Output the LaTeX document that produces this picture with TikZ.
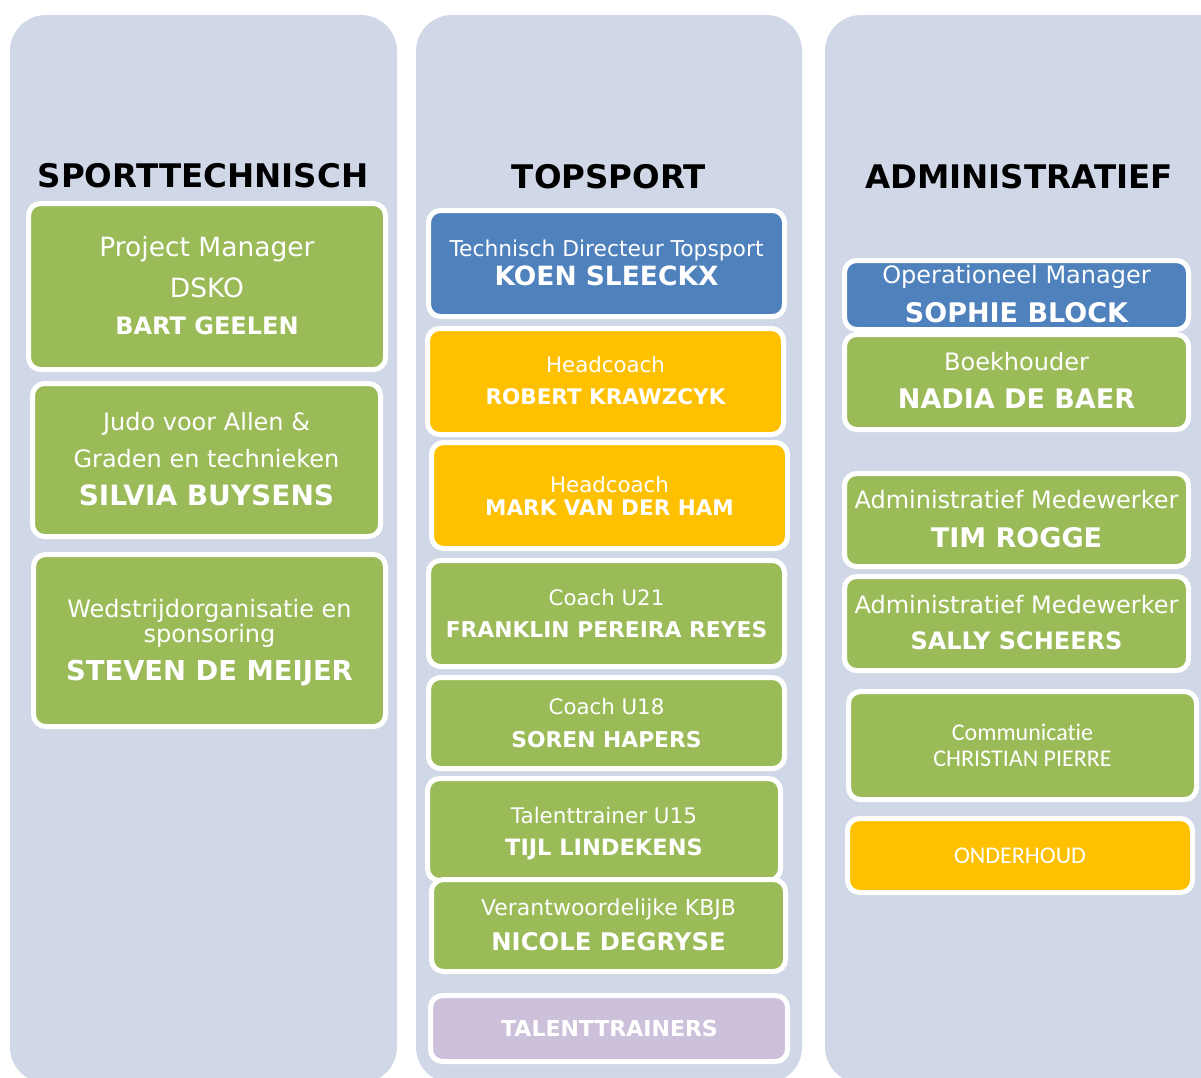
\documentclass[tikz,border=0pt]{standalone}
\usepackage{fontspec}
\setmainfont{DejaVu Sans}
\newfontfamily\calib[Ligatures=NoCommon,RawFeature={-liga;-clig;-calt}]{Carlito}
\definecolor{colbg}{HTML}{D0D8E8}
\definecolor{grn}{HTML}{9BBB59}
\definecolor{blu}{HTML}{4F81BD}
\definecolor{org}{HTML}{FFC000}
\definecolor{lav}{HTML}{CCC0DA}
\newcommand\orgbox[6]{%
  \pgfmathsetmacro\obxc{(#3+#5)/2}\pgfmathsetmacro\obyc{(#4+#6)/2}%
  \pgfmathsetmacro\obw{#5-#3+5}\pgfmathsetmacro\obh{#6-#4+5}%
  \node[boxsty,fill=#1,minimum width=\obw pt,minimum height=\obh pt] (#2) at (\obxc,\obyc) {};}
\newcommand\fs[1]{\fontsize{#1}{#1}\selectfont}
\tikzset{
  colsty/.style={fill=colbg,rounded corners=36pt},
  boxsty/.style={draw=white,line width=5pt,rounded corners=12pt,inner sep=0pt,rectangle},
  txt/.style={text=white,inner sep=0pt,anchor=base},
  hdr/.style={text=black,inner sep=0pt,anchor=base,font=\bfseries\fs{32.5}},
}
\begin{document}
\begin{tikzpicture}[x=1pt,y=-1pt]
\useasboundingbox (0,0) rectangle (1201,1077);
\begin{scope}
\clip (0,0) rectangle (1201,1077);
\fill[colsty] (10,15) rectangle (397,1083);
\fill[colsty] (416,15) rectangle (802,1083);
\fill[colsty] (825,15) rectangle (1240,1083);

\node[hdr] (h1) at (203,187) {SPORTTECHNISCH};
\node[hdr] (h2) at (609,188) {TOPSPORT};
\node[hdr] (h3) at (1019,188) {ADMINISTRATIEF};

% column 1
\orgbox{grn}{b1}{31}{206}{383}{367}
\node[txt,font=\fs{26.5}] (b1a) at (207,256) {Project Manager};
\node[txt,font=\fs{26.5}] (b1b) at (207,297) {DSKO};
\node[txt,font=\bfseries\fs{24}] (b1c) at (207,334) {BART GEELEN};

\orgbox{grn}{b2}{35}{386}{378}{534}
\node[txt,font=\fs{24}] (b2a) at (206.5,430) {Judo voor Allen \&};
\node[txt,font=\fs{24}] (b2b) at (206.5,467) {Graden en technieken};
\node[txt,font=\bfseries\fs{28}] (b2c) at (206.5,505) {SILVIA BUYSENS};

\orgbox{grn}{b3}{36}{557}{383}{724}
\node[txt,font=\fs{24}] (b3a) at (209.5,617) {Wedstrijdorganisatie en};
\node[txt,font=\fs{24}] (b3b) at (209.5,642) {sponsoring};
\node[txt,font=\bfseries\fs{27.4}] (b3c) at (209.5,680) {STEVEN DE MEIJER};

% column 2
\orgbox{blu}{c1}{431}{213}{782}{314}
\node[txt,font=\fs{21.8}] (c1a) at (606.5,256) {Technisch Directeur Topsport};
\node[txt,font=\bfseries\fs{26.5}] (c1b) at (606.5,285) {KOEN SLEECKX};

\orgbox{org}{c2}{430}{331}{781}{432}
\node[txt,font=\fs{21.3}] (c2a) at (605.5,372) {Headcoach};
\node[txt,font=\bfseries\fs{21.5}] (c2b) at (605.5,404) {ROBERT KRAWZCYK};

\orgbox{org}{c3}{434}{445}{785}{546}
\node[txt,font=\fs{21.3}] (c3a) at (609.5,492) {Headcoach};
\node[txt,font=\bfseries\fs{21.5}] (c3b) at (609.5,515) {MARK VAN DER HAM};

\orgbox{grn}{c4}{431}{563}{782}{664}
\node[txt,font=\fs{21.3}] (c4a) at (606.5,605) {Coach U21};
\node[txt,font=\bfseries\fs{21.8}] (c4b) at (606.5,637) {FRANKLIN PEREIRA REYES};

\orgbox{grn}{c5}{431}{680}{782}{766}
\node[txt,font=\fs{21.3}] (c5a) at (606.5,714) {Coach U18};
\node[txt,font=\bfseries\fs{21.8}] (c5b) at (606.5,747) {SOREN HAPERS};

\orgbox{grn}{c6}{430}{781}{778}{878}
\node[txt,font=\fs{21.5}] (c6a) at (604,823) {Talenttrainer U15};
\node[txt,font=\bfseries\fs{22.5}] (c6b) at (604,855) {TIJL LINDEKENS};

\orgbox{grn}{c7}{434}{882}{783}{969}
\node[txt,font=\fs{22}] (c7a) at (608.5,915) {Verantwoordelijke KBJB};
\node[txt,font=\bfseries\fs{24.3}] (c7b) at (608.5,950) {NICOLE DEGRYSE};

\orgbox{lav}{c8}{433}{998}{785}{1059}
\node[txt,font=\bfseries\fs{22}] (c8a) at (609.5,1036) {TALENTTRAINERS};

% column 3
\orgbox{blu}{d1}{847}{263}{1186}{327}
\node[txt,font=\fs{24}] (d1a) at (1016.5,283) {Operationeel Manager};
\node[txt,font=\bfseries\fs{27}] (d1b) at (1016.5,322) {SOPHIE BLOCK};

\orgbox{grn}{d2}{847}{337}{1186}{427}
\node[txt,font=\fs{24}] (d2a) at (1016.5,370) {Boekhouder};
\node[txt,font=\bfseries\fs{27}] (d2b) at (1016.5,408) {NADIA DE BAER};

\orgbox{grn}{d3}{847}{476}{1186}{564}
\node[txt,font=\fs{24}] (d3a) at (1016.5,508) {Administratief Medewerker};
\node[txt,font=\bfseries\fs{27}] (d3b) at (1016.5,547) {TIM ROGGE};

\orgbox{grn}{d4}{847}{579}{1186}{668}
\node[txt,font=\fs{24}] (d4a) at (1016.5,613) {Administratief Medewerker};
\node[txt,font=\bfseries\fs{24}] (d4b) at (1016.5,649) {SALLY SCHEERS};

\orgbox{grn}{d5}{851}{694}{1194}{797}
\node[txt,font=\calib\fs{24}] (d5a) at (1022.5,740) {Communicat\kern0pt ie};
\node[txt,font=\calib\fs{24}] (d5b) at (1022.5,766) {CHRISTIAN PIERRE};

\orgbox{org}{d6}{850}{821}{1190}{890}
\node[txt,font=\calib\fs{24}] (d6a) at (1020,863) {ONDERHOUD};
\end{scope}
\end{tikzpicture}
\end{document}
